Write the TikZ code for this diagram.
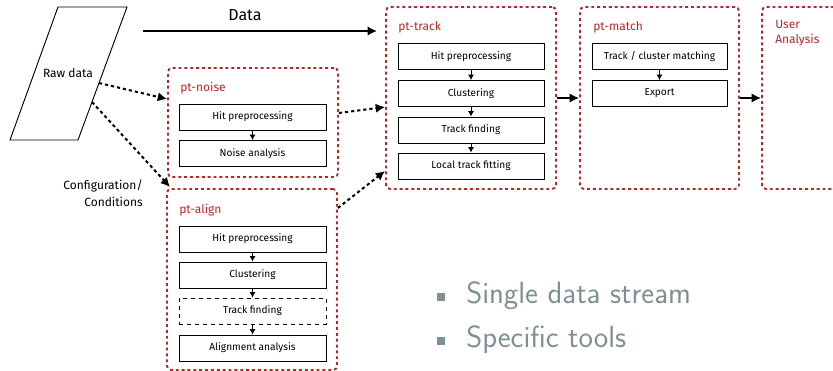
\documentclass[tikz,border=0pt]{standalone}
\usepackage{fontspec}
\setmainfont{Fira Sans}
\usetikzlibrary{arrows.meta,calc}
\definecolor{frred}{RGB}{180,40,40}
\definecolor{bulgray}{RGB}{125,145,148}
\begin{document}
\begin{tikzpicture}[x=0.75pt,y=-0.75pt,
  frame/.style args={#1x#2}{draw=frred, line width=1.4pt, dash pattern=on 2.2pt off 2.2pt,
     rounded corners=3pt, inner sep=0pt, minimum width={#1*0.75pt}, minimum height={#2*0.75pt}},
  frlabel/.style={text=frred, anchor=west, inner sep=0pt, font=\fontsize{9}{11}\selectfont},
  stepbox/.style={draw, line width=0.7pt, inner sep=0pt, minimum width={#1*0.75pt},
     minimum height={26*0.75pt}, font=\fontsize{7.6}{9}\selectfont},
  smallarrow/.style={line width=0.7pt, -{Latex[length=4pt,width=4.5pt]}},
  bigarrow/.style={line width=1.3pt, -{Latex[length=7pt,width=7pt]}},
  dotarrow/.style={line width=1.5pt, dash pattern=on 2.4pt off 2.2pt, -{Latex[length=7pt,width=7pt]}},
  plain/.style={inner sep=0pt, font=\fontsize{9}{12.75}\selectfont},
  bullet/.style={fill=bulgray, inner sep=0pt, minimum size=6pt},
  bultext/.style={anchor=base west, inner sep=0pt, text=bulgray, font=\sffamily\fontsize{23}{27}\selectfont}
]
\clip (0,0) rectangle (833,371);

% Raw data
\draw[line width=0.7pt] (58,7) -- (127,7) -- (78,140) -- (10,140) -- cycle;
\node[plain] (raw) at (68,73) {Raw data};
\coordinate (rawA) at (99,83);
\coordinate (rawB) at (92,102);

% Data arrow
\coordinate (d1) at (143,31);
\coordinate (d2) at (377,31);
\draw[bigarrow] (d1) -- (d2);
\node[inner sep=0pt, font=\fontsize{12}{14}\selectfont] (datalbl) at (245,15) {Data};

% Configuration
\node[plain, align=right, anchor=east] (conf) at (143,193) {Configuration/\\Conditions};

% pt-noise
\node[frame=170x109] (noise) at (253,122.5) {};
\node[frlabel] (noiselbl) at (180,88) {pt-noise};
\node[stepbox=147] (n1) at (252.5,117) {Hit preprocessing};
\node[stepbox=147] (n2) at (252.5,153.5) {Noise analysis};
\draw[smallarrow] (n1.south) -- (n2.north);

% pt-align
\node[frame=170x181] (align) at (252,279.5) {};
\node[frlabel] (alignlbl) at (179,210) {pt-align};
\node[stepbox=147] (a1) at (252.5,239) {Hit preprocessing};
\node[stepbox=147] (a2) at (252.5,275) {Clustering};
\node[stepbox=147, dashed] (a3) at (252.5,311) {Track finding};
\node[stepbox=147] (a4) at (252.5,348) {Alignment analysis};
\draw[smallarrow] (a1.south) -- (a2.north);
\draw[smallarrow] (a2.south) -- (a3.north);
\draw[smallarrow] (a3.south) -- (a4.north);

% pt-track
\node[frame=170x182] (track) at (471,98) {};
\node[frlabel] (tracklbl) at (398,27) {pt-track};
\node[stepbox=146] (t1) at (471,56.5) {Hit preprocessing};
\node[stepbox=146] (t2) at (471,93.5) {Clustering};
\node[stepbox=146] (t3) at (471,130) {Track finding};
\node[stepbox=146] (t4) at (471,166) {Local track fitting};
\draw[smallarrow] (t1.south) -- (t2.north);
\draw[smallarrow] (t2.south) -- (t3.north);
\draw[smallarrow] (t3.south) -- (t4.north);

% pt-match
\node[frame=159x182] (match) at (659.5,98) {};
\node[frlabel] (matchlbl) at (593,27) {pt-match};
\node[stepbox=135] (m1) at (659.5,56.5) {Track / cluster matching};
\node[stepbox=135] (m2) at (659.5,93.5) {Export};
\draw[smallarrow] (m1.south) -- (m2.north);

% User analysis
\node[frame=170x182] (user) at (847,98) {};
\node[frlabel, anchor=north west, align=left] (userlbl) at (775,20) {User\\Analysis};

% connectors
\draw[dotarrow] (rawA) -- (noise.west |- 0,99);
\draw[dotarrow] (rawB) -- (170,187);
\draw[dotarrow] (noise.east |- 0,113) -- (track.west |- 0,107);
\draw[dotarrow] (align.east |- 0,208) -- (track.west |- 0,171);
\draw[bigarrow] (track.east |- 0,98) -- (match.west |- 0,98);
\draw[bigarrow] (match.east |- 0,98) -- (user.west |- 0,98);

% bullets
\node[bullet] (b1) at (441,297) {};
\node[bultext] (s1) at (466,303) {Single data stream};
\node[bullet] (b2) at (441,341) {};
\node[bultext] (s2) at (466,347) {Specific tools};
\end{tikzpicture}
\end{document}
